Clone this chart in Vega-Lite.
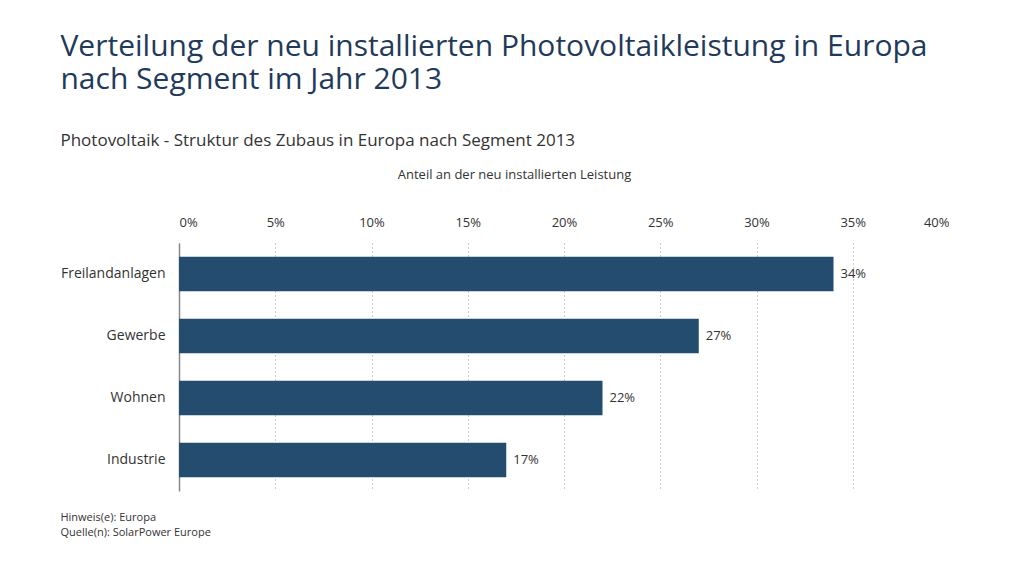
{
  "$schema": "https://vega.github.io/schema/vega-lite/v6.json",
  "background": "white",
  "padding": {"left": 60, "top": 32, "right": 0, "bottom": 0},
  "config": {"font": "Open Sans", "view": {"stroke": null}, "concat": {"spacing": 0}},
  "title": {
    "text": ["Verteilung der neu installierten Photovoltaikleistung in Europa", "nach Segment im Jahr 2013"],
    "subtitle": "Photovoltaik - Struktur des Zubaus in Europa nach Segment 2013",
    "anchor": "start",
    "fontSize": 30,
    "fontWeight": "normal",
    "color": "#1f3a5a",
    "lineHeight": 33,
    "subtitleFontSize": 17,
    "subtitleColor": "#333333",
    "subtitlePadding": 38,
    "offset": 19
  },
  "vconcat": [
    {
      "width": 770,
      "height": 248,
      "title": {
        "text": "Hinweis(e): Europa",
        "subtitle": "Quelle(n): SolarPower Europe",
        "orient": "bottom",
        "anchor": "start",
        "fontSize": 11,
        "subtitleFontSize": 11,
        "fontWeight": "normal",
        "color": "#333333",
        "subtitleColor": "#333333",
        "offset": 21,
        "subtitlePadding": 4
      },
      "data": {
        "values": [
          {"segment": "Freilandanlagen", "share": 34, "label": "34%"},
          {"segment": "Gewerbe", "share": 27, "label": "27%"},
          {"segment": "Wohnen", "share": 22, "label": "22%"},
          {"segment": "Industrie", "share": 17, "label": "17%"}
        ]
      },
      "encoding": {
        "y": {
          "field": "segment",
          "type": "nominal",
          "sort": null,
          "scale": {"paddingInner": 0.44, "paddingOuter": 0.22},
          "axis": {
            "title": null,
            "labelFontSize": 14,
            "labelColor": "#333333",
            "ticks": false,
            "labelPadding": 14,
            "domainColor": "#888888",
            "domainWidth": 1.5,
            "grid": false
          }
        },
        "x": {
          "field": "share",
          "type": "quantitative",
          "scale": {"domain": [0, 40], "nice": false},
          "axis": {
            "orient": "top",
            "values": [0, 5, 10, 15, 20, 25, 30, 35, 40],
            "labelExpr": "datum.value + '%'",
            "title": "Anteil an der neu installierten Leistung",
            "titleFontSize": 13,
            "titleFontWeight": "normal",
            "titleColor": "#333333",
            "titlePadding": 35,
            "titleX": 335,
            "titleAlign": "center",
            "labelFontSize": 13,
            "labelColor": "#333333",
            "labelPadding": 14,
            "ticks": false,
            "domain": false,
            "grid": true,
            "gridDash": [1, 3],
            "gridColor": "#999999",
            "gridWidth": 1
          }
        }
      },
      "layer": [
        {"mark": {"type": "bar", "color": "#234c6f"}},
        {
          "mark": {"type": "text", "align": "left", "dx": 7, "fontSize": 13, "color": "#333333"},
          "encoding": {"text": {"field": "label"}}
        }
      ]
    }
  ]
}
